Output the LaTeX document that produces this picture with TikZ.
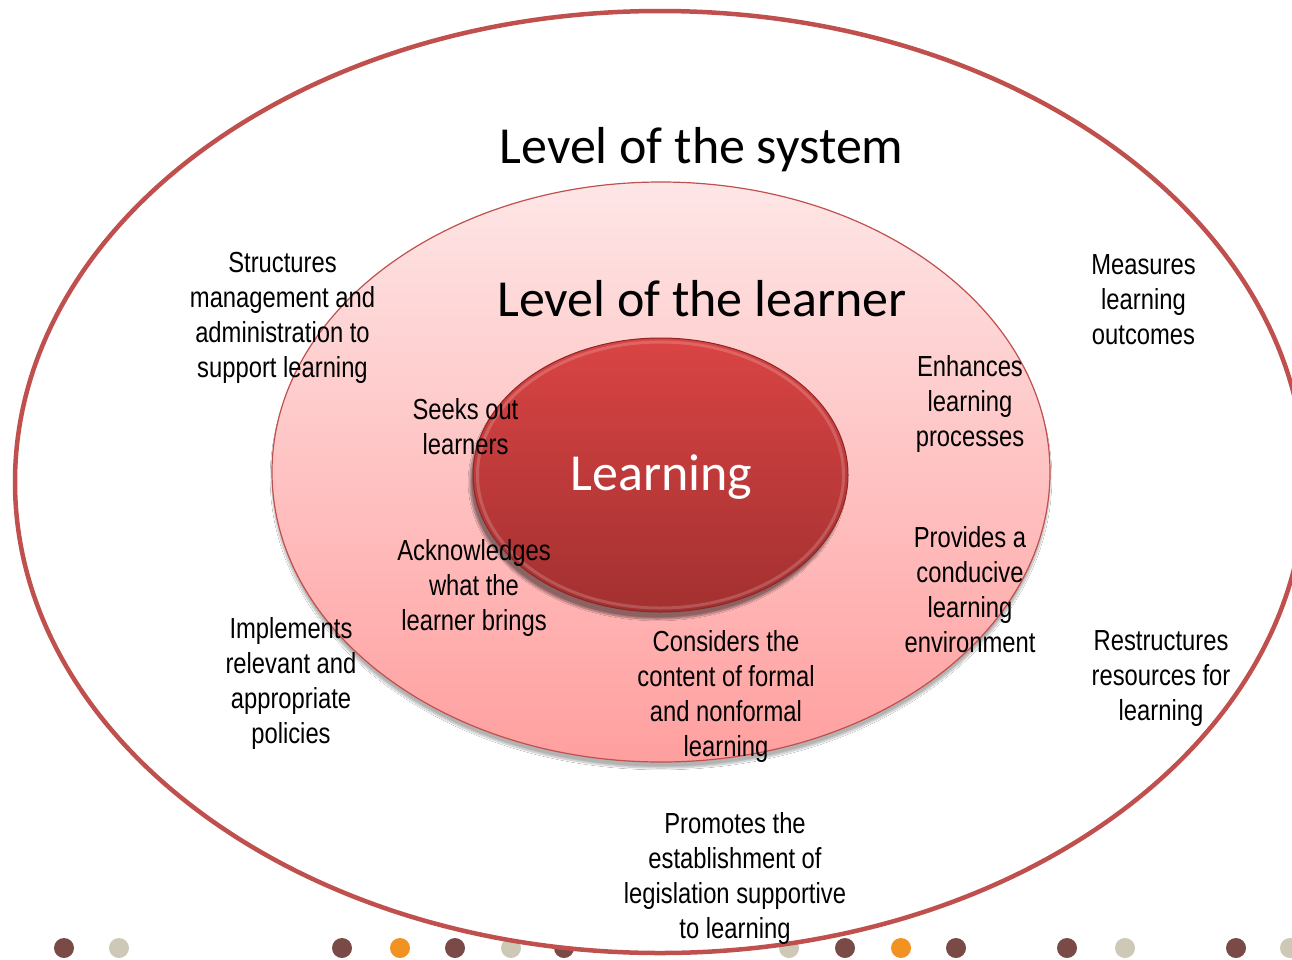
\documentclass[tikz,border=0pt]{standalone}
\usepackage{fontspec}
\newfontfamily\labfont[FakeStretch=0.82]{Liberation Sans}
\newfontfamily\titfont{Carlito}
\usetikzlibrary{shapes.geometric,shadows.blur}
\definecolor{accent}{HTML}{C0504D}
\definecolor{pinktop}{HTML}{FEE6E6}
\definecolor{pinkbot}{HTML}{FF9F9F}
\definecolor{redtop}{HTML}{DA4444}
\definecolor{redbot}{HTML}{A33030}
\definecolor{rededge}{HTML}{8E2626}
\definecolor{dotbrown}{HTML}{7A4A46}
\definecolor{dotbeige}{HTML}{CDC9B6}
\definecolor{dotorange}{HTML}{F29222}
\begin{document}
\begin{tikzpicture}[x=1pt,y=-1pt,
  lab/.style={align=center,font=\labfont\fontsize{29}{35}\selectfont,text=black,inner sep=0pt},
  ttl/.style={anchor=base,font=\titfont\fontsize{52}{60}\selectfont,inner sep=0pt},
  dotc/.style={circle,minimum size=20pt,inner sep=0pt,fill=#1},
  ring/.style={ellipse,inner sep=0pt}]
\useasboundingbox (0,0) rectangle (1292,959);
\fill[white] (0,0) rectangle (1292,959);
% decorative dots (partly hidden behind the outer ellipse)
\foreach \x/\c [count=\i] in {64/dotbrown,119/dotbeige,342/dotbrown,400/dotorange,455/dotbrown,511/dotbeige,564/dotbrown,789/dotbeige,845/dotbrown,901/dotorange,956/dotbrown,1067/dotbrown,1125/dotbeige,1236/dotbrown,1290/dotbeige}
  \node[dotc=\c] (dot\i) at (\x,948) {};
% ellipses
\node[ring, draw=accent, line width=4.5pt, fill=white, minimum width=1290pt, minimum height=942pt] (system) at (660,482) {};
\node[ring, draw=accent, line width=1.2pt, top color=pinktop, bottom color=pinkbot,
      minimum width=778pt, minimum height=580pt,
      blur shadow={shadow xshift=0pt, shadow yshift=-6pt, shadow blur steps=12, shadow opacity=30}] (learner) at (661,472) {};
\node[ring, draw=rededge, line width=1pt, top color=redtop, bottom color=redbot,
      minimum width=375pt, minimum height=274pt,
      blur shadow={shadow xshift=-3pt, shadow yshift=-7pt, shadow blur steps=12, shadow opacity=45}] (core) at (660.5,475) {};
\draw[white, opacity=0.18, line width=3pt] (core.center) ellipse [x radius=183pt, y radius=133pt];
% titles
\node[ttl] (tsys) at (701.5,163) {Level of the system};
\node[ttl] (tlearner) at (702,316) {Level of the learner};
\node[ttl, text=white] (tcore) at (661.5,490) {Learning};
% labels
\node[lab] (l1) at (282.5,318) {Structures\\management and\\administration to\\support learning};
\node[lab] (l2) at (1143.5,300) {Measures\\learning\\outcomes};
\node[lab] (l3) at (465.5,427) {Seeks out\\learners};
\node[lab] (l4) at (474,588) {Acknowledges\\what the\\learner brings};
\node[lab] (l5) at (970,404) {Enhances\\learning\\processes};
\node[lab] (l6) at (970,590) {Provides a\\conducive\\learning\\environment};
\node[lab] (l7) at (291,683) {Implements\\relevant and\\appropriate\\policies};
\node[lab] (l8) at (726,696) {Considers the\\content of formal\\and nonformal\\learning};
\node[lab] (l9) at (735,878) {Promotes the\\establishment of\\legislation supportive\\to learning};
\node[lab] (l10) at (1161,679) {Restructures\\resources for\\learning};
\end{tikzpicture}
\end{document}
